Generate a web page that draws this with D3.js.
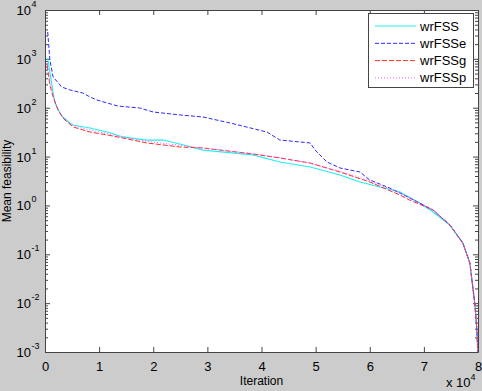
<!DOCTYPE html>
<html>
<head>
<meta charset="utf-8">
<script src="https://cdn.jsdelivr.net/npm/d3@7"></script>
<style>
  html, body { margin: 0; padding: 0; background: #cccccc; }
  svg { display: block; font-family: "Liberation Sans", Arial, sans-serif; }
</style>
</head>
<body>
<div id="chart"></div>
<script>
// series data (iteration, mean feasibility)
const iterFSS = [500, 1500, 1850, 2770, 3300, 4600, 5200, 8300, 11500, 14400, 18800, 21800, 24900, 29200, 38400, 43400, 49000, 54500, 58200, 61900, 65600, 69800, 71700, 74800, 77200, 78500, 79400, 79800, 80000];
const feasFSS = [1040, 200, 125, 78, 64.6, 48.7, 44.3, 38.5, 31.8, 25.2, 21.8, 21.8, 18.1, 13.6, 10.8, 7.74, 6.12, 4.2, 3.02, 2.38, 1.88, 1.02, 0.73, 0.397, 0.17, 0.066, 0.01, 0.0028, 0.0007];

const iterFSSe = [500, 900, 1500, 3100, 4600, 7000, 8300, 9600, 11500, 13500, 17500, 20000, 25000, 29200, 34200, 41000, 43400, 49000, 49900, 52100, 54500, 58200, 60000, 63700, 67400, 71700, 74800, 77200, 78500, 79400, 79800, 80000];
const feasFSSe = [3550, 950, 426, 265, 231, 200, 166, 144, 125, 108, 98.6, 81.7, 71, 64.6, 48.7, 31.8, 21.8, 19.0, 13.6, 7.74, 5.84, 4.83, 3.31, 2.27, 1.42, 0.806, 0.397, 0.17, 0.066, 0.01, 0.0028, 0.0007];

const iterFSSg = [400, 900, 1500, 2400, 3300, 5200, 8300, 11500, 14400, 18800, 24900, 29200, 38400, 43400, 49000, 54500, 60000, 65600, 67400, 71700, 74800, 77200, 78500, 79400, 79800, 80000];
const feasFSSg = [748, 292, 166, 90, 61.5, 40.3, 31.8, 27.7, 24.0, 19.0, 15.7, 15.0, 11.3, 9.35, 7.38, 4.83, 3.02, 1.63, 1.29, 0.806, 0.397, 0.17, 0.066, 0.01, 0.0028, 0.0007];

const iterFSSp = [400, 900, 1500, 2400, 3300, 5200, 8300, 11500, 14400, 18800, 24900, 29200, 38400, 43400, 49000, 54500, 60000, 65600, 69800, 71700, 74800, 77200, 78500, 79400, 79800, 80000];
const feasFSSp = [820, 330, 180, 92, 64, 43, 35, 29.5, 24.8, 20.5, 17, 14.8, 11.5, 9.5, 7.2, 5.0, 3.2, 1.8, 1.05, 0.8, 0.4, 0.17, 0.066, 0.01, 0.0028, 0.0007];

const seriesNames = ['wrFSS', 'wrFSSe', 'wrFSSg', 'wrFSSp'];
const xTicks = [0, 10000, 20000, 30000, 40000, 50000, 60000, 70000, 80000];
const yExponents = [-3, -2, -1, 0, 1, 2, 3, 4];

const w = 482;
const h = 391;
const mLeft = 45, mRight = 478, mTop = 10, mBottom = 352;

const styles = [
  { color: '#22f0f0', dash: null, width: 1.2 },
  { color: '#2a2aff', dash: '4,2', width: 1 },
  { color: '#ff2a2a', dash: '5,2', width: 1 },
  { color: '#ff55ff', dash: '1,2', width: 1 }
];

const series = [
  iterFSS.map((d, i) => [d, feasFSS[i]]),
  iterFSSe.map((d, i) => [d, feasFSSe[i]]),
  iterFSSg.map((d, i) => [d, feasFSSg[i]]),
  iterFSSp.map((d, i) => [d, feasFSSp[i]])
];

const svg = d3.select('#chart')
              .append('svg')
              .attr('width', w)
              .attr('height', h);

const xScale = d3.scaleLinear().domain([0, 80000]).range([mLeft, mRight]);
const yScale = d3.scaleLog().domain([1e-3, 1e4]).range([mBottom, mTop]);

svg.append('rect')
   .attr('x', mLeft).attr('y', mTop)
   .attr('width', mRight - mLeft).attr('height', mBottom - mTop)
   .attr('fill', '#ffffff');

svg.append('clipPath').attr('id', 'clip')
   .append('rect')
   .attr('x', mLeft).attr('y', mTop)
   .attr('width', mRight - mLeft).attr('height', mBottom - mTop);

const majorY = yExponents.map(e => Math.pow(10, e));
const minorY = [];
yExponents.slice(0, -1).forEach(e => {
  for (let k = 2; k <= 9; k++) minorY.push(k * Math.pow(10, e));
});

const axisColor = '#444';
const styleAxis = g => {
  g.selectAll('path.domain').attr('stroke', axisColor).attr('stroke-width', 1);
  g.selectAll('line').attr('stroke', axisColor).attr('stroke-width', 1);
};

// x axes (bottom + top)
svg.append('g')
   .attr('transform', 'translate(0,' + mBottom + ')')
   .call(d3.axisBottom(xScale).tickValues(xTicks).tickSizeInner(-5).tickSizeOuter(0).tickPadding(10)
           .tickFormat(d => d / 10000))
   .call(styleAxis)
   .call(g => g.selectAll('text').attr('font-size', 13).attr('fill', '#000')
                .attr('font-family', '"Liberation Sans", Arial, sans-serif'));

svg.append('g')
   .attr('transform', 'translate(0,' + mTop + ')')
   .call(d3.axisTop(xScale).tickValues(xTicks).tickSizeInner(-5).tickSizeOuter(0).tickFormat(''))
   .call(styleAxis);

// y axes (left + right), majors then minors
[[d3.axisLeft, mLeft], [d3.axisRight, mRight]].forEach(([ax, pos]) => {
  svg.append('g')
     .attr('transform', 'translate(' + pos + ',0)')
     .call(ax(yScale).tickValues(majorY).tickSizeInner(-5).tickSizeOuter(0).tickFormat(''))
     .call(styleAxis);
  svg.append('g')
     .attr('transform', 'translate(' + pos + ',0)')
     .call(ax(yScale).tickValues(minorY).tickSizeInner(-3).tickSizeOuter(0).tickFormat(''))
     .call(styleAxis)
     .call(g => g.select('path.domain').remove());
});

// y tick labels 10^e
const yLab = svg.append('g').attr('font-size', 13).attr('fill', '#000');
yExponents.forEach(e => {
  const yy = yScale(Math.pow(10, e));
  yLab.append('text').attr('x', 31).attr('y', yy + 5).attr('text-anchor', 'end').text('10');
  yLab.append('text').attr('x', 31.5).attr('y', yy - 3).attr('font-size', 9).text(e);
});

// lines
const line = d3.line().x(d => xScale(d[0])).y(d => yScale(d[1]));
const plot = svg.append('g').attr('clip-path', 'url(#clip)');
series.forEach((s, i) => {
  plot.append('path')
      .datum(s)
      .attr('fill', 'none')
      .attr('stroke', styles[i].color)
      .attr('stroke-width', styles[i].width)
      .attr('stroke-dasharray', styles[i].dash)
      .attr('d', line);
});

// axis titles
svg.append('text')
   .attr('x', (mLeft + mRight) / 2).attr('y', 385)
   .attr('text-anchor', 'middle').attr('font-size', 12)
   .text('Iteration');

svg.append('text')
   .attr('transform', 'translate(11,' + ((mTop + mBottom) / 2) + ') rotate(-90)')
   .attr('text-anchor', 'middle').attr('font-size', 12)
   .text('Mean feasibility');

const expo = svg.append('text').attr('x', 446).attr('y', 387).attr('font-size', 13);
expo.append('tspan').text('x 10');
expo.append('tspan').attr('dy', -7).attr('font-size', 9).text('4');

// legend
const legend = svg.append('g');
legend.append('rect')
      .attr('x', 368.5).attr('y', 13.5)
      .attr('width', 105).attr('height', 74)
      .attr('fill', '#fff').attr('stroke', '#444');
seriesNames.forEach((name, i) => {
  const ly = 26 + i * 17.3;
  legend.append('line')
        .attr('x1', 375).attr('x2', 416).attr('y1', ly).attr('y2', ly)
        .attr('stroke', styles[i].color)
        .attr('stroke-width', styles[i].width)
        .attr('stroke-dasharray', styles[i].dash);
  legend.append('text')
        .attr('x', 420).attr('y', ly + 4.5)
        .attr('font-size', 13)
        .text(name);
});
</script>
</body>
</html>
